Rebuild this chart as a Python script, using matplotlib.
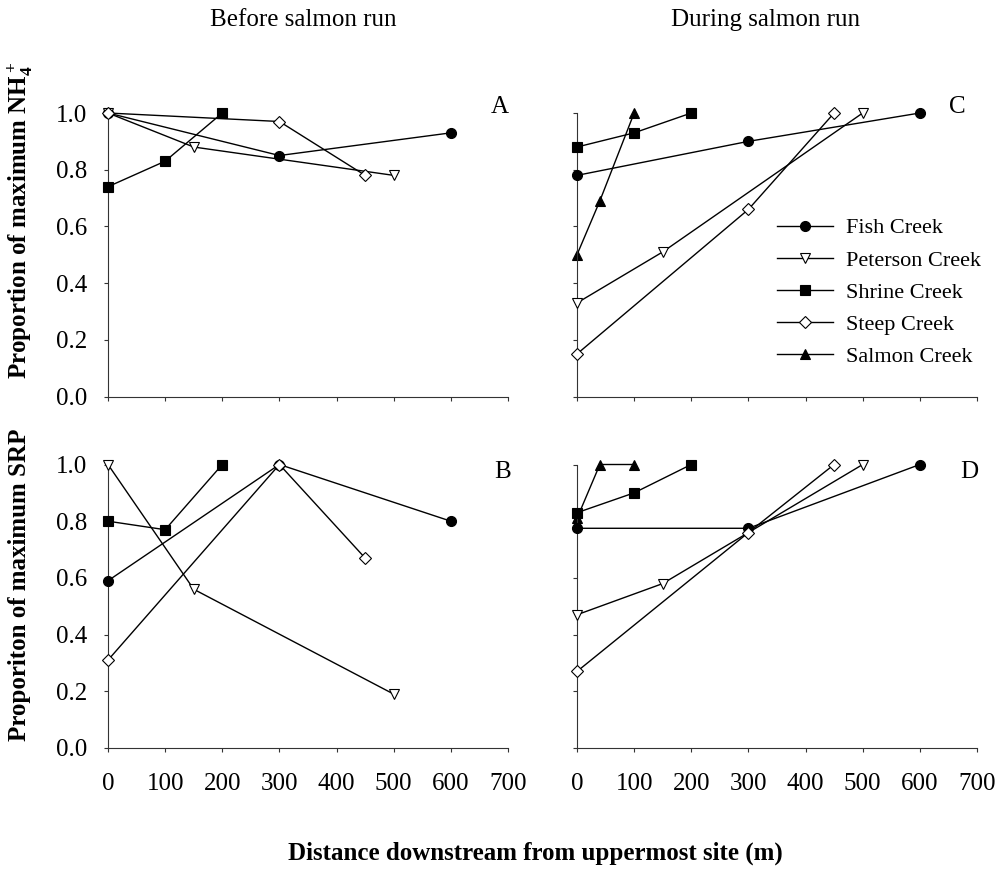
import matplotlib
matplotlib.use('Agg')
import matplotlib.pyplot as plt

plt.rcParams['font.family'] = ['Liberation Serif', 'DejaVu Serif']
plt.rcParams['mathtext.fontset'] = 'custom'
plt.rcParams['mathtext.rm'] = 'Liberation Serif:bold'
plt.rcParams['mathtext.it'] = 'Liberation Serif:bold'
plt.rcParams['mathtext.bf'] = 'Liberation Serif:bold'

creeks = ['Fish Creek', 'Peterson Creek', 'Shrine Creek', 'Steep Creek', 'Salmon Creek']

# panel A: NH4+ before salmon run
fish_x_A, fish_y_A = [0, 300, 600], [1.0, 0.85, 0.93]
peterson_x_A, peterson_y_A = [0, 150, 500], [1.0, 0.88, 0.78]
shrine_x_A, shrine_y_A = [0, 100, 200], [0.74, 0.83, 1.0]
steep_x_A, steep_y_A = [0, 300, 450], [1.0, 0.97, 0.78]

# panel B: SRP before salmon run
fish_x_B, fish_y_B = [0, 300, 600], [0.59, 1.0, 0.80]
peterson_x_B, peterson_y_B = [0, 150, 500], [1.0, 0.56, 0.19]
shrine_x_B, shrine_y_B = [0, 100, 200], [0.80, 0.77, 1.0]
steep_x_B, steep_y_B = [0, 300, 450], [0.31, 1.0, 0.67]

# panel C: NH4+ during salmon run
fish_x_C, fish_y_C = [0, 300, 600], [0.78, 0.90, 1.0]
peterson_x_C, peterson_y_C = [0, 150, 500], [0.33, 0.51, 1.0]
shrine_x_C, shrine_y_C = [0, 100, 200], [0.88, 0.93, 1.0]
steep_x_C, steep_y_C = [0, 300, 450], [0.15, 0.66, 1.0]
salmon_x_C, salmon_y_C = [0, 40, 100], [0.50, 0.69, 1.0]

# panel D: SRP during salmon run
fish_x_D, fish_y_D = [0, 300, 600], [0.775, 0.775, 1.0]
peterson_x_D, peterson_y_D = [0, 150, 500], [0.47, 0.58, 1.0]
shrine_x_D, shrine_y_D = [0, 100, 200], [0.83, 0.90, 1.0]
steep_x_D, steep_y_D = [0, 300, 450], [0.27, 0.76, 1.0]
salmon_x_D, salmon_y_D = [0, 40, 100], [0.81, 1.0, 1.0]

x_ticks = [0, 100, 200, 300, 400, 500, 600, 700]
y_ticks = [0.0, 0.2, 0.4, 0.6, 0.8, 1.0]

styles = {
    'Fish Creek': dict(marker='o', mfc='black', ms=7.2, zorder=3),
    'Peterson Creek': dict(marker='v', mfc='white', ms=7.2, zorder=4),
    'Shrine Creek': dict(marker='s', mfc='black', ms=6.6, zorder=5),
    'Steep Creek': dict(marker='D', mfc='white', ms=6.2, zorder=6),
    'Salmon Creek': dict(marker='^', mfc='black', ms=7.2, zorder=2.5),
}

fig = plt.figure(figsize=(10.05, 8.77), dpi=100)
W, H = 1005.0, 877.0


def make_axes(left_px, zero_px):
    ax = fig.add_axes([left_px / W, 1 - zero_px / H, 400 / W, 283.5 / H])
    ax.set_xlim(0, 700)
    ax.set_ylim(0, 1.0)
    for s in ['top', 'right']:
        ax.spines[s].set_visible(False)
    for s in ['left', 'bottom']:
        ax.spines[s].set_linewidth(0.8)
        ax.spines[s].set_color('#333333')
    ax.set_xticks(x_ticks)
    ax.set_yticks(y_ticks)
    ax.set_yticklabels(['%.1f' % v for v in y_ticks])
    ax.tick_params(direction='out', length=3, width=0.8, color='#333333',
                   labelsize=18)
    ax.tick_params(axis='y', pad=12)
    ax.tick_params(axis='x', pad=15)
    return ax


def draw(ax, series):
    handles = []
    for name, xs, ys in series:
        st = styles[name]
        h, = ax.plot(xs, ys, color='black', lw=1.0, marker=st['marker'],
                     ms=st['ms'], mfc=st['mfc'], mec='black', mew=0.8,
                     zorder=st['zorder'], clip_on=False, label=name)
        handles.append(h)
    return handles


axA = make_axes(108, 396.5)
axB = make_axes(108, 748)
axC = make_axes(577, 396.5)
axD = make_axes(577, 748)

draw(axA, [('Fish Creek', fish_x_A, fish_y_A),
           ('Peterson Creek', peterson_x_A, peterson_y_A),
           ('Shrine Creek', shrine_x_A, shrine_y_A),
           ('Steep Creek', steep_x_A, steep_y_A)])
draw(axB, [('Fish Creek', fish_x_B, fish_y_B),
           ('Peterson Creek', peterson_x_B, peterson_y_B),
           ('Shrine Creek', shrine_x_B, shrine_y_B),
           ('Steep Creek', steep_x_B, steep_y_B)])
hC = draw(axC, [('Fish Creek', fish_x_C, fish_y_C),
                ('Peterson Creek', peterson_x_C, peterson_y_C),
                ('Shrine Creek', shrine_x_C, shrine_y_C),
                ('Steep Creek', steep_x_C, steep_y_C),
                ('Salmon Creek', salmon_x_C, salmon_y_C)])
draw(axD, [('Fish Creek', fish_x_D, fish_y_D),
           ('Peterson Creek', peterson_x_D, peterson_y_D),
           ('Shrine Creek', shrine_x_D, shrine_y_D),
           ('Steep Creek', steep_x_D, steep_y_D),
           ('Salmon Creek', salmon_x_D, salmon_y_D)])

for ax in [axA, axC]:
    ax.tick_params(axis='x', labelbottom=False)
for ax in [axC, axD]:
    ax.tick_params(axis='y', labelleft=False)

axA.text(685, 1.02, 'A', fontsize=18, ha='center', va='center')
axB.text(690, 0.975, 'B', fontsize=18, ha='center', va='center')
axC.text(665, 1.02, 'C', fontsize=18, ha='center', va='center')
axD.text(686, 0.975, 'D', fontsize=18, ha='center', va='center')

axC.legend(handles=hC, labels=creeks, loc='upper left',
           bbox_to_anchor=(0.5, 0.63), frameon=False, fontsize=16,
           handlelength=2.5, handletextpad=0.6, labelspacing=0.52,
           borderaxespad=0, borderpad=0)

fig.text(303 / W, 1 - 20 / H, 'Before salmon run', fontsize=18,
         ha='center', va='center')
fig.text(765 / W, 1 - 20 / H, 'During salmon run', fontsize=18,
         ha='center', va='center')
fig.text(20 / W, 1 - 220 / H, 'Proportion of maximum NH$_4^+$',
         fontsize=18, fontweight='bold', rotation=90, ha='center', va='center')
fig.text(20 / W, 1 - 585 / H, 'Proporiton of maximum SRP',
         fontsize=18, fontweight='bold', rotation=90, ha='center', va='center')
fig.text(535 / W, 1 - 853 / H, 'Distance downstream from uppermost site (m)',
         fontsize=18, fontweight='bold', ha='center', va='center')

fig.savefig('out.png', dpi=100)
